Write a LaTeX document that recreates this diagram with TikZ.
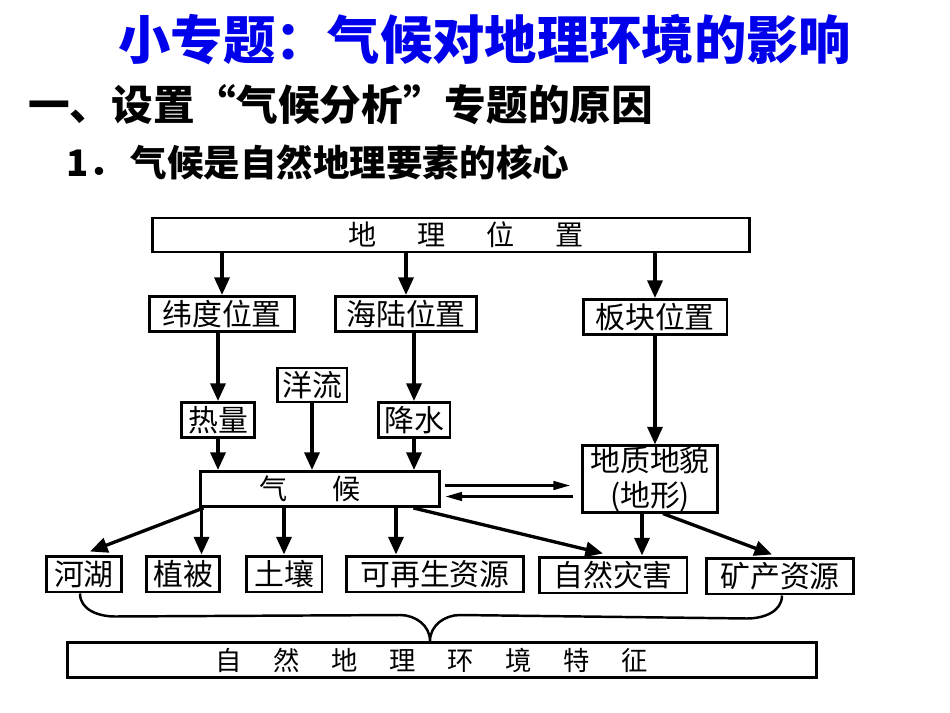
\documentclass[tikz,border=0pt]{standalone}
\usepackage{fontspec}
\newfontfamily\cjk{Noto Sans CJK SC}
\usepackage{xcolor}
\definecolor{ttblue}{RGB}{0,0,235}
\usetikzlibrary{arrows.meta, calc}

\begin{document}
\begin{tikzpicture}[x=0.02cm, y=-0.02cm,
  box/.style={draw, line width=1.7pt, inner sep=0pt, minimum height=0.7cm,
              font=\cjk\fontsize{17}{20}\selectfont, align=center, minimum width=#1},
  spaced/.style={font=\cjk\fontsize{#1}{18}\selectfont},
  arr/.style={-{Triangle[length=10pt,width=8.5pt]}, line width=1.9pt},
  arrthin/.style={-{Triangle[length=9.5pt,width=5pt]}, line width=1.3pt},
  bracel/.style={line width=1.4pt},
  headline/.style={anchor=west, inner sep=0pt}
]
\useasboundingbox (0,0) rectangle (950,713);

% Headings
\node[headline, text=ttblue, font=\cjk\bfseries\fontsize{29.8}{32}\selectfont] (title) at (118,40) {小专题：气候对地理环境的影响};
\node[headline, font=\cjk\bfseries\fontsize{23.7}{26}\selectfont] (sec) at (28,105) {一、设置\makebox[1em][r]{“}气候分析\makebox[1em][l]{”}专题的原因};
\node[headline, font=\cjk\bfseries\fontsize{20.8}{23}\selectfont] (sub) at (66,162) {1．\hspace{0.15em}气候是自然地理要素的核心};

% Row 1: position
\node[box=11.96cm, minimum height=0.68cm, spaced=16] (geo) at (451,235) {\hspace{0.6cm}地\hspace{1.45em}理\hspace{1.45em}位\hspace{1.45em}置};

% Row 2
\node[box=2.9cm] (lat) at (222,314) {纬度位置};
\node[box=2.84cm] (sea) at (406,314) {海陆位置};
\node[box=2.88cm] (plate) at (655,317) {板块位置};

% Row 3
\node[box=1.46cm] (heat) at (218,420) {热量};
\node[box=1.4cm, minimum height=0.68cm] (current) at (312,385) {洋流};
\node[box=1.44cm] (rain) at (414,420) {降水};

% Climate and landform
\node[box=4.8cm, spaced=16] (clim) at (320,489) {气\hspace{1.6em}候\hspace{0.4cm}};
\node[box=2.7cm, minimum height=1.3cm] (geol) at (650,479) {地质地貌\\(地形)};

% Row 4: elements
\node[box=1.5cm, minimum height=0.72cm] (lake) at (84,574) {河湖};
\node[box=1.46cm, minimum height=0.72cm] (veg) at (183,574) {植被};
\node[box=1.52cm, minimum height=0.72cm] (soil) at (284,574) {土壤};
\node[box=3.56cm, minimum height=0.72cm] (renew) at (435,574) {可再生资源};
\node[box=2.96cm, minimum height=0.72cm] (hazard) at (613,575) {自然灾害};
\node[box=2.94cm, minimum height=0.72cm] (mineral) at (780,576) {矿产资源};

% Row 5: features
\node[box=14.98cm, spaced=15] (feat) at (442,660) {自\hspace{1.2em}然\hspace{1.2em}地\hspace{1.2em}理\hspace{1.2em}环\hspace{1.2em}境\hspace{1.2em}特\hspace{1.2em}征\hspace{0.4cm}};

% Arrows down from position
\draw[arr] (lat.north |- geo.south) -- (lat.north);
\draw[arr] (sea.north |- geo.south) -- (sea.north);
\draw[arr] (plate.north |- geo.south) -- (plate.north);
\draw[arr] (heat.north |- lat.south) -- (heat.north);
\draw[arr] (rain.north |- sea.south) -- (rain.north);
\draw[arr] (plate.south) -- (plate.south |- geol.north);

% Arrows into climate
\draw[arr] (heat.south) -- (heat.south |- clim.north);
\draw[arr] (current.south) -- (current.south |- clim.north);
\draw[arr] (rain.south) -- (rain.south |- clim.north);

% Climate <-> landform
\draw[arrthin, shorten <=0.08cm, shorten >=0.22cm] ([yshift=0.07cm]clim.east) -- ([yshift=0.07cm]clim.east -| geol.west);
\draw[arrthin, shorten <=0.16cm, shorten >=0.08cm] ([yshift=-0.15cm]clim.east -| geol.west) -- ([yshift=-0.15cm]clim.east);

% Climate -> elements
\draw[arr] ([xshift=0.1cm]clim.south west) -- ([xshift=0.12cm, yshift=0.06cm]lake.north);
\draw[arr] ([xshift=0.06cm]clim.south west) -- ([xshift=0.06cm]clim.south west |- veg.north);
\draw[arr] (soil.north |- clim.south) -- (soil.north);
\draw[arr] ([xshift=1.52cm]clim.south) -- ([xshift=1.52cm]clim.south |- renew.north);
\draw[arr] ([xshift=-0.56cm]clim.south east) -- ([xshift=-0.2cm, yshift=0.04cm]hazard.north);

% Landform -> elements
\draw[arr] ([xshift=-0.16cm]geol.south) -- ([xshift=-0.16cm]geol.south |- hazard.north);
\draw[arr] ([xshift=0.26cm]geol.south) -- ([xshift=-0.16cm, yshift=0.04cm]mineral.north);

% Brace
\coordinate (bl) at ([xshift=-0.08cm]lake.south);
\coordinate (br) at ([xshift=0.04cm]mineral.south);
\coordinate (tip) at ([xshift=-0.24cm]feat.north);
\draw[bracel] (bl) to[out=-90,in=180] ($(bl)+(35,23)$) -- ($(tip)+(-30,-26)$)
  to[out=0,in=90] (tip) to[out=90,in=180] ($(tip)+(30,-26)$)
  -- ($(br)+(-35,23)$) to[out=0,in=-90] (br);
\end{tikzpicture}
\end{document}
